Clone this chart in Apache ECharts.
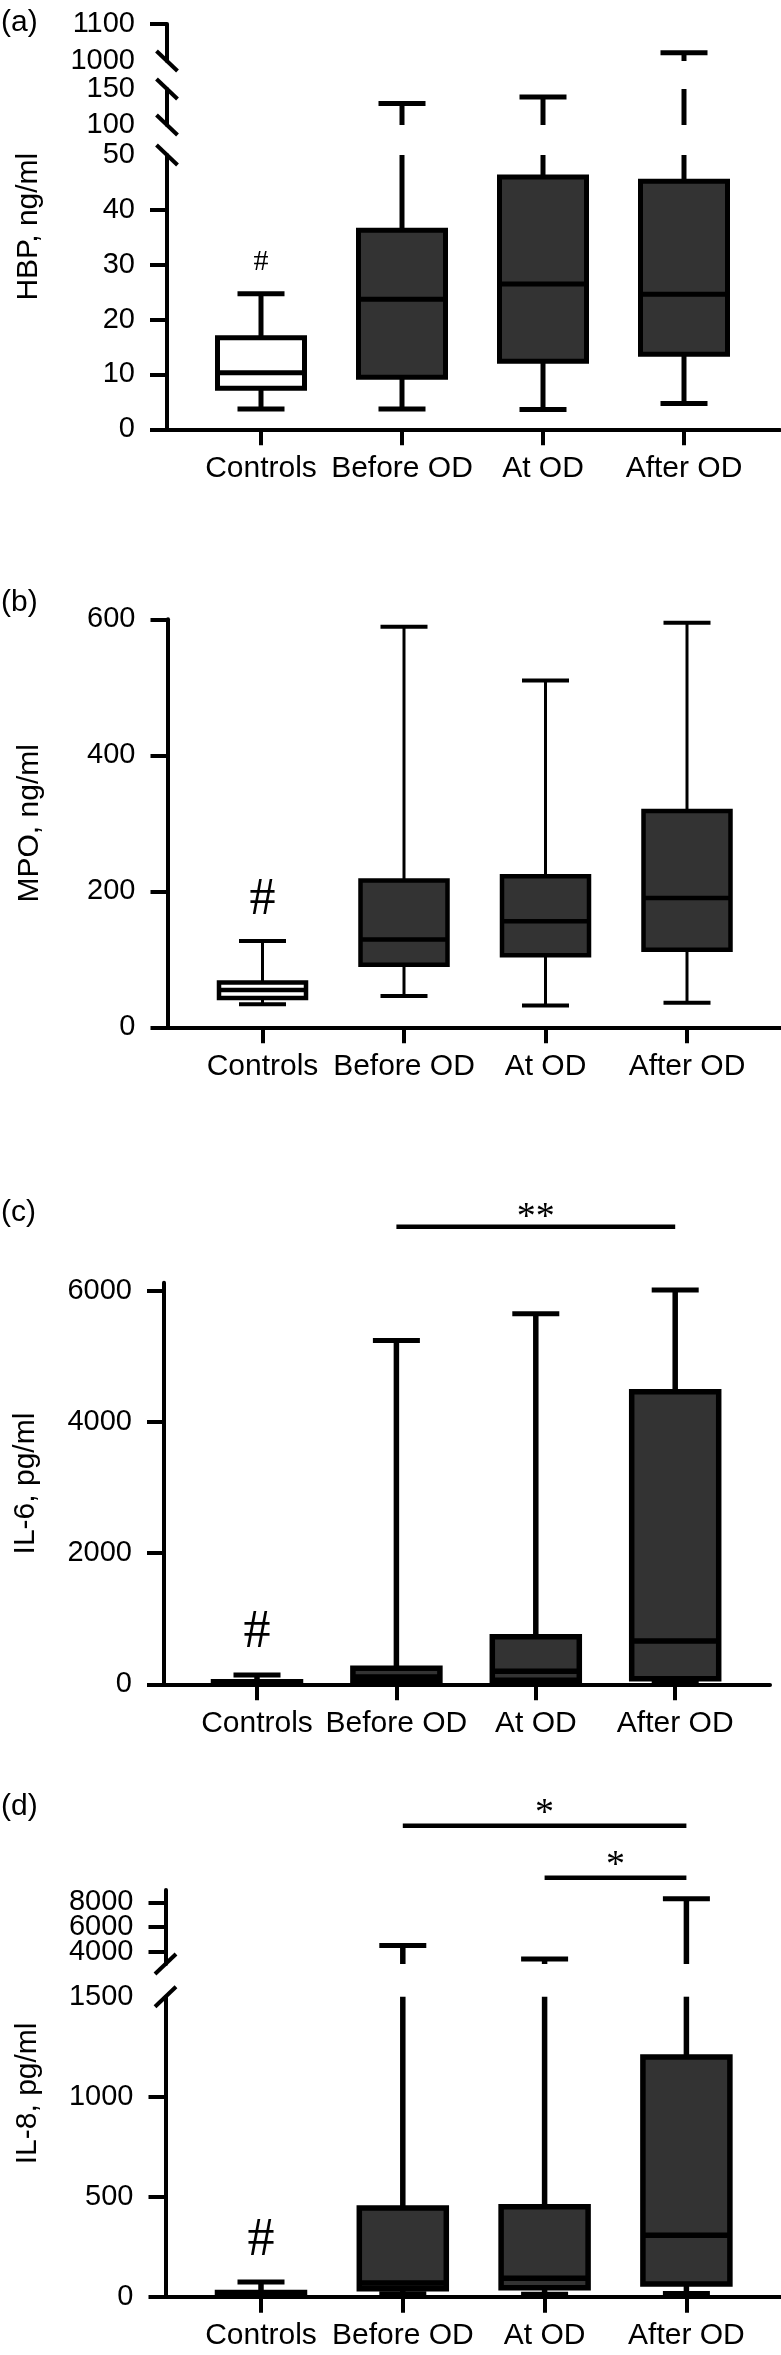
<!DOCTYPE html>
<html><head><meta charset="utf-8">
<script src="https://cdn.jsdelivr.net/npm/echarts@6/dist/echarts.min.js"></script>
<style>html,body{margin:0;padding:0;background:#fff}#c{width:781px;height:2355px}</style>
</head><body><div id="c"></div>
<script>
const categories = ['Controls', 'Before OD', 'At OD', 'After OD'];

// (a) HBP, ng/ml
const hbpMin    = [3.7, 3.7, 3.6, 4.7];
const hbpQ1     = [7.5, 9.5, 12.4, 13.7];
const hbpMedian = [10.3, 23.7, 26.5, 24.6];
const hbpQ3     = [16.7, 36.3, 46.0, 45.2];
const hbpMax    = [24.7, 130, 139, 1022];

// (b) MPO, ng/ml
const mpoMin    = [34, 46, 32, 36];
const mpoQ1     = [43, 92, 106, 114];
const mpoMedian = [55, 129, 156, 190];
const mpoQ3     = [66, 216, 222, 318];
const mpoMax    = [127, 589, 510, 595];

// (c) IL-6, pg/ml
const il6Min    = [5, 15, 15, 20];
const il6Q1     = [10, 45, 60, 85];
const il6Median = [25, 110, 200, 660];
const il6Q3     = [40, 245, 725, 4460];
const il6Max    = [140, 5240, 5650, 6010];

// (d) IL-8, pg/ml
const il8Min    = [2, 15, 12, 16];
const il8Q1     = [5, 40, 45, 63];
const il8Median = [12, 68, 92, 307];
const il8Q3     = [21, 443, 450, 1198];
const il8Max    = [74, 4500, 3400, 8300];

// tick labels
const hbpUpperTicks  = [1000, 1100];
const hbpMiddleTicks = [100, 150];
const hbpLowerTicks  = [0, 10, 20, 30, 40, 50];
const mpoTicks       = [0, 200, 400, 600];
const il6Ticks       = [0, 2000, 4000, 6000];
const il8UpperTicks  = [4000, 6000, 8000];
const il8LowerTicks  = [0, 500, 1000, 1500];

// annotations
const hashY  = [30.5, 186, 780, 278];           // '#' above Controls in each panel
const il6Sig = [[1, 3, 6975, '**']];            // [from, to, y, text]
const il8Sig = [[1, 3, 14215, '*'], [2, 3, 10000, '*']];

const FONT = '"Liberation Sans", Arial, Helvetica, sans-serif';
const SERIF = '"Liberation Serif", "Times New Roman", serif';

const panels = [
  {label:'(a)', labelTop:8, name:'HBP, ng/ml', axisX:167, c0:261, sp:141, xEnd:780,
   whisker:5, border:5, cap:5, slash:'down', hashFont:30, starGap:0,
   stats:[hbpMin, hbpQ1, hbpMedian, hbpQ3, hbpMax], sig:[],
   segs:[
     {min:1000, max:1100, top:24, bottom:61, labels:hbpUpperTicks, breakBottom:true},
     {min:100, max:150, top:89, bottom:125, labels:hbpMiddleTicks, breakTop:true, breakBottom:true},
     {min:0, max:50, top:155, bottom:429.3, labels:hbpLowerTicks, breakTop:true, base:true}
   ]},
  {label:'(b)', labelTop:588, name:'MPO, ng/ml', axisX:167.5, c0:262.5, sp:141.5, xEnd:781,
   whisker:3, border:4.5, cap:4, hashFont:52, starGap:0,
   stats:[mpoMin, mpoQ1, mpoMedian, mpoQ3, mpoMax], sig:[],
   segs:[{min:0, max:600, top:619.3, bottom:1027.3, labels:mpoTicks, base:true}]},
  {label:'(c)', labelTop:1198, name:'IL-6, pg/ml', axisX:164, c0:257, sp:139.4, xEnd:770,
   whisker:5.5, border:5.5, cap:5, hashFont:54, starGap:9,
   stats:[il6Min, il6Q1, il6Median, il6Q3, il6Max], sig:il6Sig,
   segs:[{min:0, max:6120, top:1282.8, bottom:1684.3, labels:il6Ticks, base:true}]},
  {label:'(d)', labelTop:1792, name:'IL-8, pg/ml', axisX:165.5, c0:261, sp:141.8, xEnd:781,
   whisker:5.5, border:5.5, cap:5, slash:'up', hashFont:54, starGap:12,
   stats:[il8Min, il8Q1, il8Median, il8Q3, il8Max], sig:il8Sig,
   segs:[
     {min:3000, max:9000, top:1890, bottom:1964, labels:il8UpperTicks, breakBottom:true, split:true},
     {min:0, max:1500, top:1996.7, bottom:2296.7, labels:il8LowerTicks, breakTop:true, base:true}
   ]}
];

const BOX_HALF = 43.5, CAP_HALF = 23.5;

function makeBox(p) {
  return function (params, api) {
    const i = api.value(0);
    const v = [api.value(1), api.value(2), api.value(3), api.value(4), api.value(5)];
    const cs = params.coordSys;
    const top = cs.y, bot = cs.y + cs.height;
    const x = api.coord([i, 0])[0];
    const y = v.map(val => api.coord([i, val])[1]);
    const inR = yy => yy >= top - 0.5 && yy <= bot + 0.5;
    const ch = [];
    const vline = (ya, yb) => {
      const a = Math.min(bot, Math.max(ya, yb)), b = Math.max(top, Math.min(ya, yb));
      if (a > b) ch.push({type:'line', shape:{x1:x, y1:a, x2:x, y2:b}, style:{stroke:'#000', lineWidth:p.whisker}});
    };
    vline(y[0], y[1]);
    vline(y[3], y[4]);
    [y[0], y[4]].forEach(yy => {
      if (inR(yy)) ch.push({type:'line', shape:{x1:x - CAP_HALF, y1:yy, x2:x + CAP_HALF, y2:yy}, style:{stroke:'#000', lineWidth:p.cap}});
    });
    const bt = Math.max(top, y[3]), bb = Math.min(bot, y[1]);
    if (bb > bt) {
      ch.push({type:'rect', shape:{x:x - BOX_HALF, y:bt, width:2 * BOX_HALF, height:bb - bt},
        style:{fill: i === 0 ? '#ffffff' : '#333333', stroke:'#000', lineWidth:p.border}});
    }
    if (inR(y[2]) && bb > bt) {
      ch.push({type:'line', shape:{x1:x - BOX_HALF, y1:y[2], x2:x + BOX_HALF, y2:y[2]}, style:{stroke:'#000', lineWidth:p.border}});
    }
    return {type:'group', children:ch};
  };
}

function makeBreak(p, s) {
  return function (params) {
    const cs = params.coordSys, x = cs.x;
    const dir = p.slash === 'up' ? -1 : 1;
    const mk = yy => ({type:'line', shape:{x1:x - 10.5, y1:yy - 10 * dir, x2:x + 10.5, y2:yy + 10 * dir}, style:{stroke:'#000', lineWidth:4}});
    const ch = [];
    if (s.breakTop) ch.push(mk(cs.y));
    if (s.breakBottom) ch.push(mk(cs.y + cs.height));
    return {type:'group', children:ch};
  };
}

const grid = [], xAxis = [], yAxis = [], series = [], title = [];
const axisLineStyle = {color:'#000', width:4};
const yLabelStyle = {fontFamily:FONT, fontSize:29, color:'#000', margin:32,
  interval:0, hideOverlap:false, showMinLabel:true, showMaxLabel:true, formatter:v => String(v)};

panels.forEach((p, pi) => {
  title.push({text:p.label, left:1, top:p.labelTop, padding:0,
    textStyle:{fontFamily:FONT, fontSize:30, fontWeight:'normal', color:'#000'}});
  const xmin = -(p.c0 - p.axisX) / p.sp;
  const xmax = 3 + (p.xEnd - (p.c0 + 3 * p.sp)) / p.sp;
  const first = p.segs[0], last = p.segs[p.segs.length - 1];
  let gi = grid.length;
  grid.push({left:p.axisX, right:781 - p.xEnd, top:first.top, height:last.bottom - first.top});
  xAxis.push({gridIndex:gi, type:'value', min:xmin, max:xmax, show:false});
  yAxis.push({gridIndex:gi, type:'value', min:0, max:1, name:p.name, nameLocation:'middle', nameGap:123, nameRotate:90,
    nameTextStyle:{fontFamily:FONT, fontSize:30, color:'#000'},
    axisLine:{show:false, onZero:false}, axisTick:{show:false}, axisLabel:{show:false}, splitLine:{show:false}});

  p.segs.forEach((s, si) => {
    gi = grid.length;
    const xi = xAxis.length;
    grid.push({left:p.axisX, right:781 - p.xEnd, top:s.top, height:s.bottom - s.top});
    xAxis.push({gridIndex:gi, type:'value', min:xmin, max:xmax, show:!!s.base,
      axisLine:{show:true, onZero:false, lineStyle:axisLineStyle},
      axisTick:{show:true, customValues:[0, 1, 2, 3], length:16, lineStyle:axisLineStyle},
      axisLabel:{show:true, customValues:[0, 1, 2, 3], formatter:v => categories[Math.round(v)] || '',
        interval:0, hideOverlap:false, margin:24, fontFamily:FONT, fontSize:30, color:'#000'},
      splitLine:{show:false}});
    const ticks = s.labels.filter(v => !((s.breakTop && v === s.max) || (s.breakBottom && v === s.min)));
    const mainLabels = s.split ? s.labels.filter((v, k) => k % 2 === 0) : s.labels;
    const altLabels = s.split ? s.labels.filter((v, k) => k % 2 === 1) : [];
    const yi = yAxis.length;
    yAxis.push({gridIndex:gi, type:'value', min:s.min, max:s.max,
      axisLine:{show:true, onZero:false, lineStyle:axisLineStyle},
      axisTick:{show:ticks.length > 0, customValues:ticks.length ? ticks : undefined, length:17, lineStyle:axisLineStyle},
      axisLabel:Object.assign({show:true, customValues:mainLabels}, yLabelStyle),
      splitLine:{show:false}});
    if (altLabels.length) {
      yAxis.push({gridIndex:gi, type:'value', min:s.min, max:s.max, position:'left', offset:0,
        axisLine:{show:false, onZero:false}, axisTick:{show:false},
        axisLabel:Object.assign({show:true, customValues:altLabels}, yLabelStyle),
        splitLine:{show:false}});
    }

    series.push({type:'custom', xAxisIndex:xi, yAxisIndex:yi, silent:true, renderItem:makeBox(p),
      data:categories.map((c, i) => [i, p.stats[0][i], p.stats[1][i], p.stats[2][i], p.stats[3][i], p.stats[4][i]])});

    if (s.breakTop || s.breakBottom) {
      series.push({type:'custom', xAxisIndex:xi, yAxisIndex:yi, silent:true, renderItem:makeBreak(p, s), data:[[0, s.min]]});
    }
    if (s.base) {
      series.push({type:'custom', xAxisIndex:xi, yAxisIndex:yi, silent:true, data:[[0, hashY[pi]]],
        renderItem:(params, api) => {
          const pt = api.coord([api.value(0), api.value(1)]);
          return {type:'text', x:pt[0], y:pt[1], style:{text:'#', font:p.hashFont + 'px ' + SERIF, fill:'#000', align:'center', verticalAlign:'middle'}};
        }});
    }
    if (si === 0 && p.sig.length) {
      series.push({type:'custom', xAxisIndex:xi, yAxisIndex:yi, silent:true,
        data:p.sig.map(d => [d[0], d[1], d[2]]),
        renderItem:(params, api) => {
          const a = api.coord([api.value(0), api.value(2)]);
          const b = api.coord([api.value(1), api.value(2)]);
          const t = p.sig[params.dataIndex][3];
          return {type:'group', children:[
            {type:'line', shape:{x1:a[0], y1:a[1], x2:b[0], y2:b[1]}, style:{stroke:'#000', lineWidth:4.5}},
            {type:'text', x:(a[0] + b[0]) / 2, y:a[1] - p.starGap, style:{text:t, font:'38px ' + SERIF, fill:'#000', align:'center', verticalAlign:'middle'}}
          ]};
        }});
    }
  });
});

const chart = echarts.init(document.getElementById('c'), null, {renderer:'canvas'});
chart.setOption({animation:false, backgroundColor:'#fff', title, grid, xAxis, yAxis, series});
</script>
</body></html>
